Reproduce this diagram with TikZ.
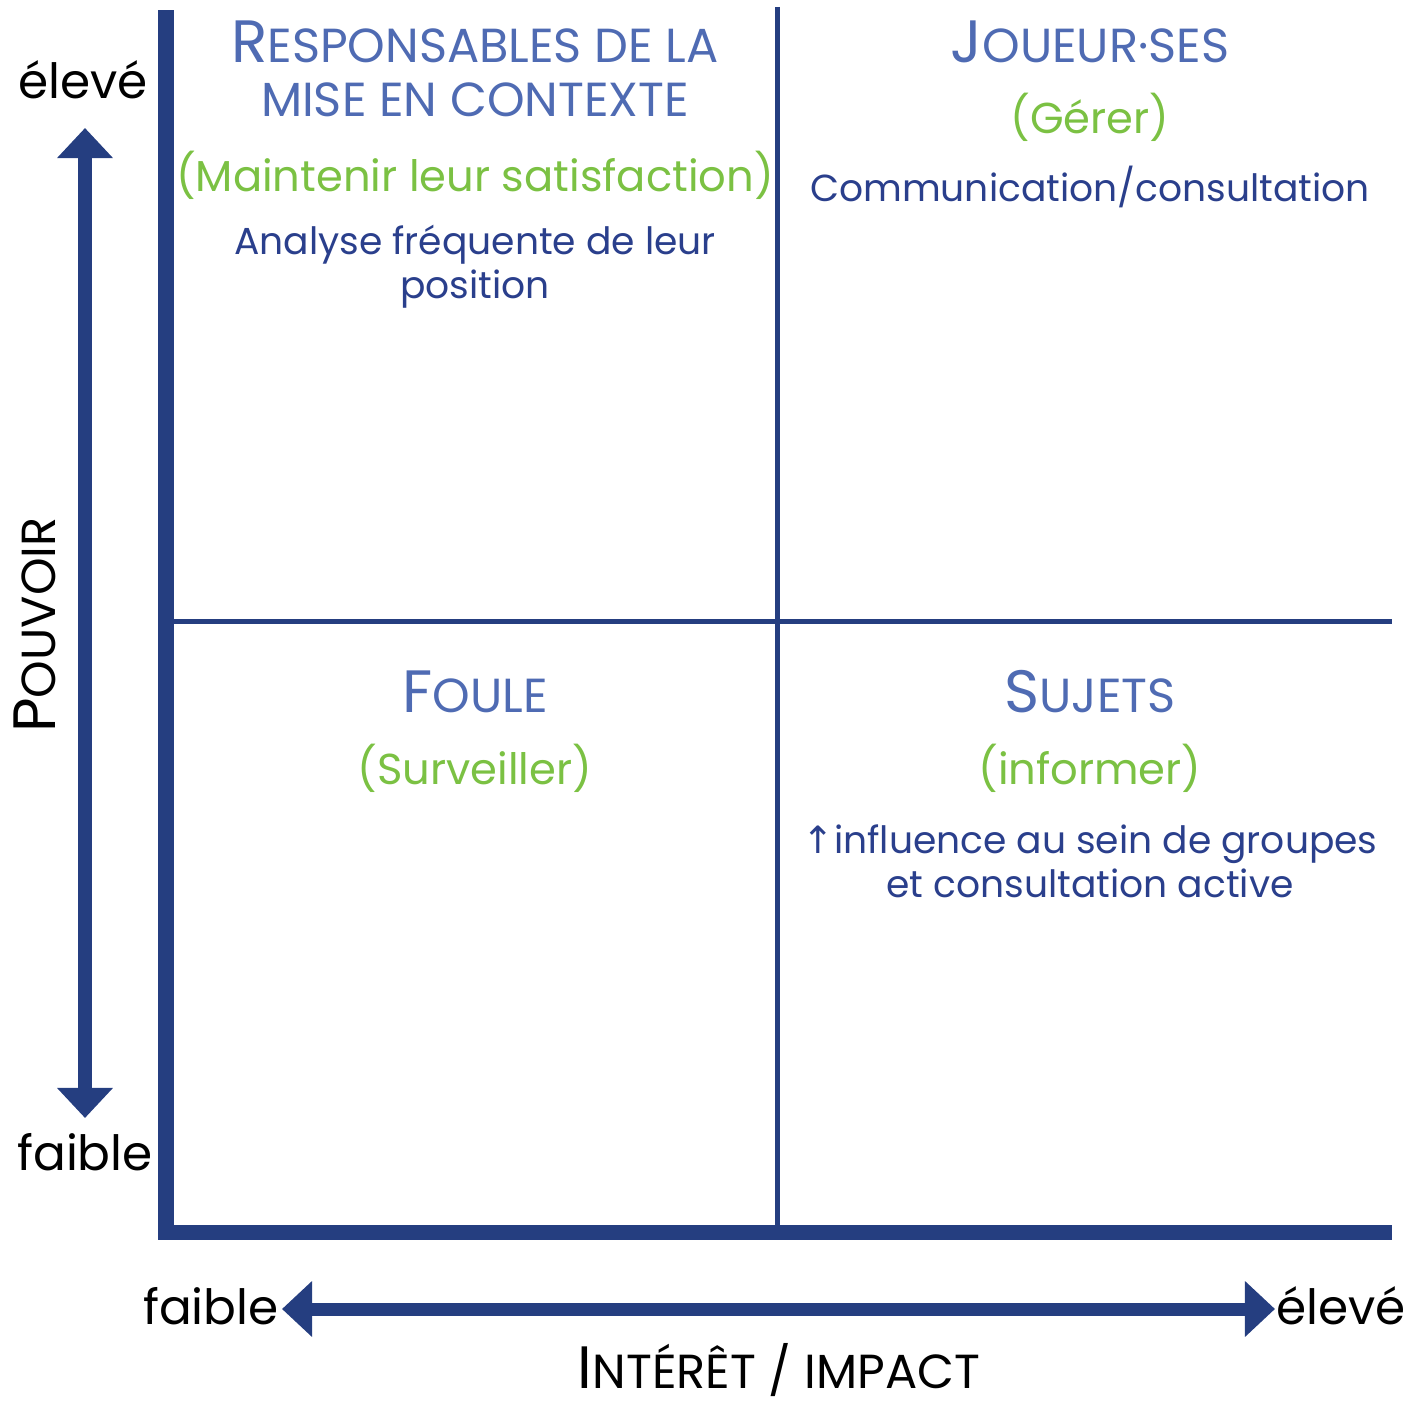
\documentclass[tikz,border=0pt]{standalone}
\usepackage{fontspec}
\setmainfont{Poppins}
\newfontfamily\symfont{DejaVu Sans}
\usetikzlibrary{arrows.meta}

\definecolor{axisnavy}{HTML}{253E80}
\definecolor{titleblue}{HTML}{4F6BB3}
\definecolor{actgreen}{HTML}{7BC143}
\definecolor{noteblue}{HTML}{2A3F8C}

% small caps by hand: first letter large, rest smaller capitals
\newcommand{\capfirst}[1]{{\fontsize{17pt}{17pt}\selectfont #1}}
\newcommand{\capsmall}[1]{{\fontsize{13.6pt}{13.6pt}\selectfont #1}}

\tikzset{
  quadtitle/.style={text=titleblue, font=\fontsize{17pt}{19pt}\selectfont, anchor=center, inner sep=0pt},
  quadaction/.style={text=actgreen, font=\fontsize{12.3pt}{14pt}\selectfont, anchor=center, inner sep=0pt},
  quadnote/.style={text=noteblue, font=\fontsize{10.7pt}{12.6pt}\selectfont, align=center, anchor=center, inner sep=0pt},
  axislabel/.style={text=black, font=\fontsize{13.8pt}{15pt}\selectfont, inner sep=0pt},
  axisarrow/.style={axisnavy, line width=0.13cm, {Triangle[width=5.4mm,length=3mm]}-{Triangle[width=5.4mm,length=3mm]}},
}

\begin{document}
\begin{tikzpicture}[x=0.01cm,y=-0.01cm]
\useasboundingbox (0,0) rectangle (1423,1403);

% grid
\coordinate (top) at (166,10);
\coordinate (corner) at (166,1232);
\coordinate (right) at (1392,1232);
\draw[axisnavy, line width=0.15cm, line join=miter] (top) -- (corner) -- (right);
\coordinate (midtop) at (777.5,7);
\coordinate (midbot) at (777.5,1226);
\coordinate (midleft) at (174,621);
\coordinate (midright) at (1392,621);
\draw[axisnavy, line width=0.05cm] (midtop) -- (midbot);
\draw[axisnavy, line width=0.05cm] (midleft) -- (midright);

% power axis
\node[axislabel] (phigh) at (83,80) {élevé};
\node[axislabel] (plow) at (85,1152) {faible};
\coordinate (pup) at (85,128);
\coordinate (pdown) at (85,1118);
\draw[axisarrow] (pdown) -- (pup);
\node[axislabel, rotate=90] (power) at (35,625) {\capfirst{P}\capsmall{OUVOIR}};

% interest axis
\node[axislabel] (ilow) at (211,1306) {faible};
\node[axislabel] (ihigh) at (1341,1306) {élevé};
\coordinate (ileft) at (282,1309);
\coordinate (iright) at (1275,1309);
\draw[axisarrow] (ileft) -- (iright);
\node[axislabel, anchor=base] (interest) at (779,1388) {\capfirst{I}\capsmall{NTÉRÊT / IMPACT}};

% quadrants
\node[quadtitle] (tl1) at (475,42) {R\capsmall{ESPONSABLES DE LA}};
\node[quadtitle] (tl2) at (475,100) {\capsmall{MISE EN CONTEXTE}};
\node[quadaction] (tl3) at (475,175) {(Maintenir leur satisfaction)};
\node[quadnote] (tl4) at (475,267) {Analyse fréquente de leur\\position};

\node[quadtitle] (tr1) at (1090,42) {J\capsmall{OUEUR·SES}};
\node[quadaction] (tr2) at (1090,117) {(Gérer)};
\node[quadnote] (tr3) at (1090,187) {Communication/consultation};

\node[quadtitle] (bl1) at (475,692) {F\capsmall{OULE}};
\node[quadaction] (bl2) at (475,768) {(Surveiller)};

\node[quadtitle] (br1) at (1090,692) {S\capsmall{UJETS}};
\node[quadaction] (br2) at (1090,768) {(informer)};
\node[quadnote] (br3) at (1090,861) {{\symfont ↑}influence au sein de groupes\\et consultation active};
\end{tikzpicture}
\end{document}
